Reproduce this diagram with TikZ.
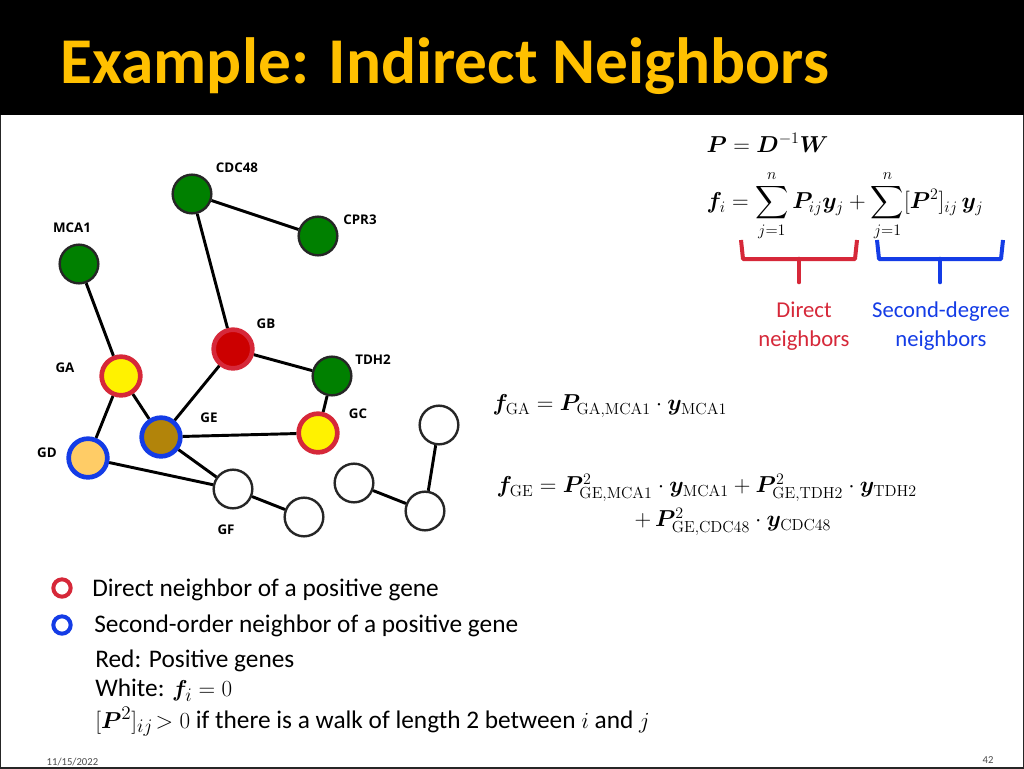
\documentclass[tikz,border=0pt]{standalone}
\usepackage{amsmath,bm}
\usepackage[no-math]{fontspec}
\setmainfont{Carlito}
\newfontfamily\lblfont{Open Sans}
\definecolor{gold}{RGB}{255,192,0}
\definecolor{gg}{RGB}{0,128,0}
\definecolor{rr}{RGB}{214,40,57}
\definecolor{bb}{RGB}{20,60,230}
\definecolor{brn}{RGB}{178,132,10}
\definecolor{lor}{RGB}{255,204,102}
\begin{document}
\begin{tikzpicture}[x=0.75pt,y=-0.75pt,
  gn/.style={circle,draw=black!85,line width=1.8pt,minimum size=29pt,inner sep=0pt},
  green/.style={gn,fill=gg},
  white/.style={gn,fill=white},
  redring/.style={circle,draw=rr,line width=3.5pt,minimum size=29pt,inner sep=0pt},
  bluering/.style={circle,draw=bb,line width=3.5pt,minimum size=29pt,inner sep=0pt},
  lbl/.style={font=\lblfont\bfseries\fontsize{10}{12}\selectfont},
  edge/.style={line width=2.2pt,black},
  txt/.style={font=\fontsize{19}{22}\selectfont,anchor=west,inner sep=0pt}]
\useasboundingbox (0,0) rectangle (1024,768);
\fill[white] (0,0) rectangle (1024,768);
\fill[black] (0,0) rectangle (1024,115);
\node[anchor=west,text=gold,font=\bfseries\fontsize{49}{56}\selectfont] (title) at (56,66) {Example: Indirect Neighbors};
% nodes
\node[green] (cdc) at (192,194) {};
\node[green] (cpr) at (318,236) {};
\node[green] (mca) at (79,264) {};
\node[redring,fill=red!80!black] (gb) at (233,349) {};
\node[green] (tdh) at (332,376) {};
\node[redring,fill=yellow] (ga) at (121,376) {};
\node[bluering,fill=brn] (ge) at (161,437) {};
\node[redring,fill=yellow] (gc) at (318,433) {};
\node[bluering,fill=lor] (gd) at (88,458) {};
\node[white] (gf) at (233,489) {};
\node[white] (w2) at (304,517) {};
\node[white] (w3) at (439,425) {};
\node[white] (w4) at (354,483) {};
\node[white] (w5) at (425,511) {};
\draw[edge] (cdc) -- (cpr);
\draw[edge] (cdc) -- (gb);
\draw[edge] (mca) -- (ga);
\draw[edge] (ga) -- (gd);
\draw[edge] (ga) -- (ge);
\draw[edge] (gb) -- (ge);
\draw[edge] (gb) -- (tdh);
\draw[edge] (tdh) -- (gc);
\draw[edge] (ge) -- (gc);
\draw[edge] (ge) -- (gf);
\draw[edge] (gd) -- (gf);
\draw[edge] (gf) -- (w2);
\draw[edge] (w3) -- (w5);
\draw[edge] (w4) -- (w5);
% labels
\node[lbl] (lcdc) at (237,168) {CDC48};
\node[lbl] (lcpr) at (360,220) {CPR3};
\node[lbl] (lmca) at (72,228) {MCA1};
\node[lbl] (lgb) at (266,324) {GB};
\node[lbl] (ltdh) at (373,360) {TDH2};
\node[lbl] (lga) at (65,368) {GA};
\node[lbl] (lge) at (209,418) {GE};
\node[lbl] (lgc) at (358,414) {GC};
\node[lbl] (lgd) at (47,453) {GD};
\node[lbl] (lgf) at (226,530) {GF};
% formulas
\node[anchor=west,font=\fontsize{17}{20}\selectfont] (f1) at (702,143) {$\bm{P}=\bm{D}^{-1}\bm{W}$};
\node[anchor=west,font=\fontsize{17}{20}\selectfont] (f2) at (702,206) {$\bm{f}_i=\displaystyle\sum_{j=1}^{n}\bm{P}_{ij}\bm{y}_j+\sum_{j=1}^{n}[\bm{P}^2]_{ij}\,\bm{y}_j$};
\draw[rr,line width=3pt,line join=round] (741,240) -- (743,259) -- (855,259) -- (857,240);
\draw[rr,line width=3.5pt,line cap=round] (799,259) -- (799,282);
\draw[bb,line width=3pt,line join=round] (877,240) -- (879,259) -- (1001,259) -- (1003,240);
\draw[bb,line width=3.5pt,line cap=round] (940,259) -- (940,282);
\node[text=rr,align=center,font=\fontsize{17}{22}\selectfont] (dn) at (804,326) {Direct\\neighbors};
\node[text=bb,align=center,font=\fontsize{17}{22}\selectfont] (sn) at (941,326) {Second-degree\\neighbors};
\node[anchor=west,font=\fontsize{18}{21}\selectfont] (fga) at (488,406) {$\bm{f}_{\mathrm{GA}}=\bm{P}_{\mathrm{GA,MCA1}}\cdot\bm{y}_{\mathrm{MCA1}}$};
\node[anchor=west,font=\fontsize{18}{21}\selectfont] (fge) at (492,488) {$\bm{f}_{\mathrm{GE}}=\bm{P}^2_{\mathrm{GE,MCA1}}\cdot\bm{y}_{\mathrm{MCA1}}+\bm{P}^2_{\mathrm{GE,TDH2}}\cdot\bm{y}_{\mathrm{TDH2}}$};
\node[anchor=west,font=\fontsize{18}{21}\selectfont] (fge2) at (630,522) {$+\,\bm{P}^2_{\mathrm{GE,CDC48}}\cdot\bm{y}_{\mathrm{CDC48}}$};
% legend
\node[circle,draw=rr,line width=3pt,minimum size=13pt,inner sep=0pt] (lr) at (62,588) {};
\node[circle,draw=bb,line width=3pt,minimum size=13pt,inner sep=0pt] (lb) at (62,625) {};
\node[txt] (t1) at (92,590) {Direct neighbor of a positive gene};
\node[txt] (t2) at (94,626) {Second-order neighbor of a positive gene};
\node[txt] (t3) at (95,661) {Red: Positive genes};
\node[txt] (t4) at (95,690) {White: $\bm{f}_i=0$};
\node[txt] (t5) at (95,722) {$[\bm{P}^2]_{ij}\!>0$ if there is a walk of length 2 between $i$ and $j$};
\node[anchor=west,font=\fontsize{8}{10}\selectfont,text=black!70] (date) at (42,762) {11/15/2022};
\node[font=\fontsize{8}{10}\selectfont,text=black!70] (pg) at (988,760) {42};
\end{tikzpicture}
\end{document}
